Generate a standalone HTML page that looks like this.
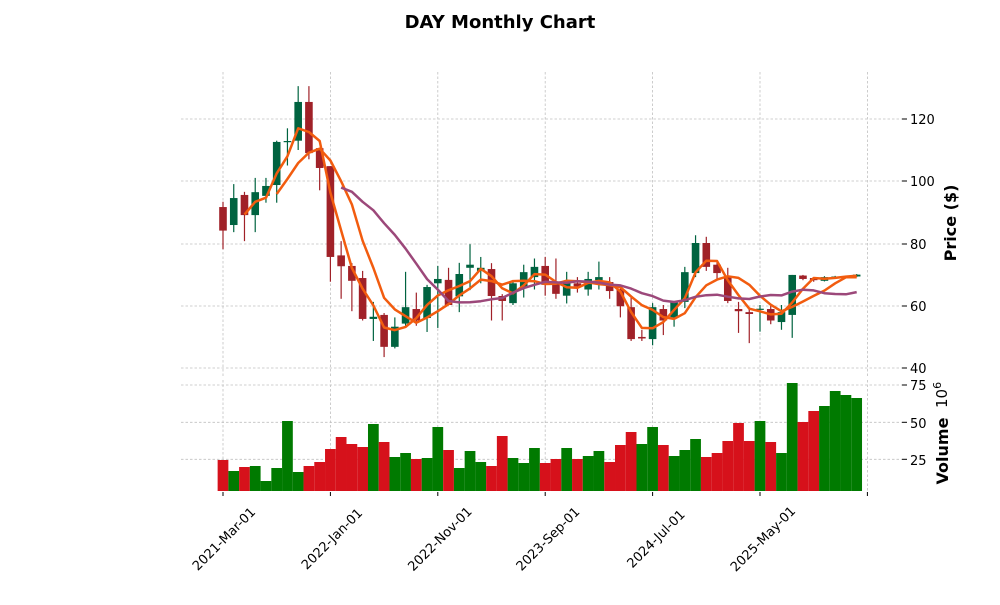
<!DOCTYPE html>
<html><head><meta charset="utf-8"><style>
body{margin:0;background:#fff;}
svg text{font-family:"DejaVu Sans","Liberation Sans",sans-serif;fill:#000;}
</style></head><body>
<svg id="s" width="1000" height="600" xmlns="http://www.w3.org/2000/svg">
<rect width="1000" height="600" fill="#fff"/>
<text x="500" y="28" font-size="18" font-weight="bold" text-anchor="middle">DAY Monthly Chart</text>
<g id="grid" stroke="#c0c0c0" stroke-width="0.8" stroke-dasharray="2.5,2"></g>
<g id="vol"></g>
<g id="cdl"></g>
<g id="ma" fill="none" stroke-width="2.5" stroke-linejoin="round"></g>
<g id="ticks" stroke="#000" stroke-width="1"></g>
<g font-size="13">
<text x="910" y="124">120</text>
<text x="910" y="186">100</text>
<text x="910" y="249">80</text>
<text x="910" y="311">60</text>
<text x="910" y="373">40</text>
<text x="910" y="390">75</text>
<text x="910" y="428">50</text>
<text x="910" y="465">25</text>
</g>
<text transform="translate(956,223) rotate(-90)" font-size="16" font-weight="bold" text-anchor="middle">Price ($)</text>
<text transform="translate(948,451) rotate(-90)" font-size="16" font-weight="bold" text-anchor="middle">Volume</text>
<text transform="translate(947,408) rotate(-90)" font-size="15">10<tspan dy="-6" font-size="11">6</tspan></text>
<g font-size="13" text-anchor="middle">
<text transform="translate(227,542) rotate(-45)">2021-Mar-01</text>
<text transform="translate(335,542) rotate(-45)">2022-Jan-01</text>
<text transform="translate(443,542) rotate(-45)">2022-Nov-01</text>
<text transform="translate(551,542) rotate(-45)">2023-Sep-01</text>
<text transform="translate(659,542) rotate(-45)">2024-Jul-01</text>
<text transform="translate(766,542) rotate(-45)">2025-May-01</text>
</g>
</svg>
<script>
var NS="http://www.w3.org/2000/svg";
function el(p,t,a){var e=document.createElementNS(NS,t);for(var k in a)e.setAttribute(k,a[k]);document.getElementById(p).appendChild(e);return e;}
var D=[[91.6,84,93.3,78],[85.8,94.5,99,83.5],[95.5,89,96.5,80.6],[89,96.4,101,83.5],[95.2,98.4,101,93],[98.7,112.6,113,93],[112.6,112.9,117,105],[113,125.5,130.6,110],[125.5,109,130.6,107],[110.6,104.2,110.6,97],
[104.8,75.5,104.8,67.5],[76,72.5,80.6,62],[72.6,67.8,73.5,58],[68.7,55.5,71,55],[55.5,56.2,61,48.4],[56.8,46.5,57.4,43.2],[46.5,53,56,46],[54,59.3,70.7,53],[58.7,55,64,53.3],[55.8,65.8,66.5,51.3],
[67,68.4,72.6,52.6],[68.1,60,72,60],[62.8,70,73.6,57.7],[72,73,79.6,64.8],[71,72,75.5,67],[71.6,62.9,73.5,55],[62.9,61.3,63.5,55],[60.6,67,68,60],[65.5,70.6,73,62.4],[69,72.3,75,65],
[72.6,66.5,75.5,63],[67.2,63.6,75,62],[63,67,70.7,60.5],[67,66,69,64],[65,68.4,70.7,63],[68,69,74,65],[67.4,64.5,69,62],[65,59.6,66,56],[59.3,49,63,48.4],[49.7,49.2,52,48.4],
[49,59.3,60.6,47],[58.7,55,60,50.3],[56,61,61,53],[61,70.6,72.3,59],[70.3,80,82.5,69],[80,72.3,82,71],[73,70.3,74,68],[69,61.3,72,60.6],[58.7,58,61,51],[57.7,57.1,59,47.7],
[58.5,58.8,60,51.4],[58.7,55,60,53.8],[54.5,57.7,60,52],[56.8,69.7,69.7,49.4],[69.5,68.4,69.7,68],[68.7,68,69,67.5],[67.8,69,69.3,67.6],[69,69.2,69.4,68.8],[69.2,69.3,69.5,69],[69.2,69.8,70,69]];
var VT=[460,471,467,466,481,468,421,472,466,462,449,437,444,447,424,442,457,453,459,458,427,450,468,451,462,466,436,458,463,448,
463,459,448,459,456,451,462,445,432,444,427,445,456,450,439,457,453,441,423,441,421,442,453,383,422,411,406,391,395,398];
var vcs="r g r g g g g g r r r r r r g r g g r g g r g g g r r g g g r r g r g g r r r g g r g g g r r r r r g r g g r r g g g g".split(" ");
function X(i){return 223+i*10.74;}function Y(p){return 119+(120-p)*3.1;}
[119,181,244,306,368].forEach(function(y){el("grid","line",{x1:181,x2:902,y1:y,y2:y});});
[385,422.3,459.3].forEach(function(y){el("grid","line",{x1:181,x2:902,y1:y,y2:y});});
[0,10,20,30,40,50,60].forEach(function(i){var x=X(i);el("grid","line",{x1:x,x2:x,y1:72,y2:378});el("grid","line",{x1:x,x2:x,y1:380,y2:491});el("ticks","line",{x1:x,x2:x,y1:492,y2:496});});
[119,181,244,306,368,385,422.3,459.3].forEach(function(y){el("ticks","line",{x1:902,x2:907,y1:y,y2:y});});
for(var i=0;i<60;i++){el("vol","rect",{x:X(i)-5.37,y:VT[i],width:10.74,height:491-VT[i],fill:vcs[i]=="g"?"#007a00":"#d6111b"});}
D.forEach(function(d,i){var up=d[1]>=d[0],c=up?"#006340":"#a02128",x=X(i);
el("cdl","line",{x1:x,x2:x,y1:Y(d[2]),y2:Y(d[3]),stroke:c,"stroke-width":1.2});
var t=Y(Math.max(d[0],d[1])),b=Y(Math.min(d[0],d[1]));el("cdl","rect",{x:x-3.8,y:t,width:7.6,height:Math.max(b-t,1.2),fill:c});});
function ma(n,col){var pts=[];for(var i=n-1;i<60;i++){var s=0;for(var j=i-n+1;j<=i;j++)s+=D[j][1];pts.push(X(i).toFixed(1)+","+Y(s/n).toFixed(1));}
el("ma","polyline",{points:pts.join(" "),stroke:col});}
ma(3,"#f25c0f");ma(6,"#f25c0f");ma(12,"#9c487a");
</script>
</body></html>
